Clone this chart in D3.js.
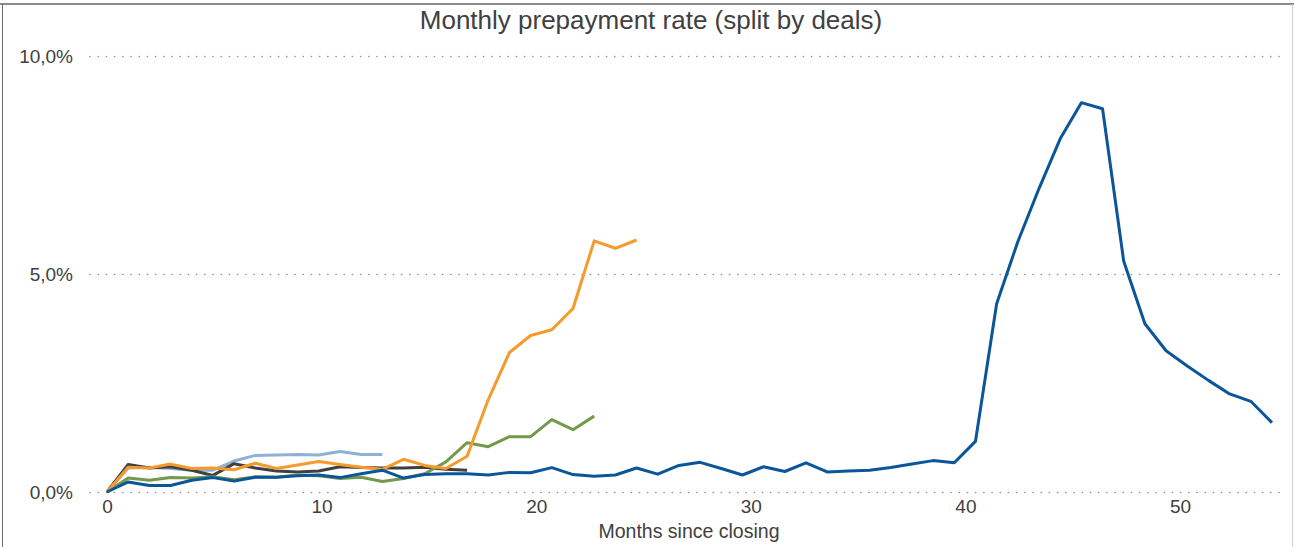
<!DOCTYPE html>
<html>
<head>
<meta charset="utf-8">
<script src="https://cdn.jsdelivr.net/npm/d3@7"></script>
<style>
  body { margin: 0; background: #fff; }
  svg { display: block; font-family: "Liberation Sans", Arial, sans-serif; }
</style>
</head>
<body>
<svg id="chart"></svg>
<script>
// monthly prepayment rate, in %, index = months since closing
var dealBlue = [0, 0.23, 0.15, 0.15, 0.27, 0.33, 0.25, 0.34, 0.34, 0.37,
  0.39, 0.33, 0.42, 0.5, 0.32, 0.4, 0.42, 0.42, 0.39, 0.45,
  0.44, 0.56, 0.4, 0.36, 0.39, 0.55, 0.41, 0.61, 0.68, 0.54,
  0.39, 0.58, 0.47, 0.67, 0.46, 0.48, 0.5, 0.56, 0.64, 0.72,
  0.67, 1.16, 4.32, 5.74, 6.96, 8.1, 8.93, 8.79, 5.29, 3.86,
  3.24, 2.89, 2.56, 2.25, 2.08, 1.59];
var dealOrange = [0, 0.57, 0.55, 0.64, 0.54, 0.55, 0.51, 0.66, 0.54, 0.62,
  0.7, 0.63, 0.57, 0.52, 0.75, 0.61, 0.54, 0.82, 2.12, 3.2,
  3.59, 3.72, 4.21, 5.76, 5.59, 5.78];
var dealGreen = [0, 0.32, 0.27, 0.33, 0.32, 0.35, 0.28, 0.35, 0.34, 0.39,
  0.37, 0.31, 0.34, 0.24, 0.31, 0.42, 0.69, 1.13, 1.04, 1.27,
  1.27, 1.66, 1.43, 1.74];
var dealLightBlue = [0, 0.55, 0.57, 0.54, 0.5, 0.5, 0.71, 0.84, 0.85, 0.86,
  0.85, 0.93, 0.86, 0.86];
var dealGray = [0, 0.63, 0.55, 0.58, 0.5, 0.38, 0.65, 0.55, 0.48, 0.46,
  0.48, 0.58, 0.56, 0.55, 0.55, 0.57, 0.52, 0.5];

var yTicks = [0, 5, 10];
var xTicks = [0, 10, 20, 30, 40, 50];

var width = 1294, height = 547;

var svg = d3.select('#chart')
  .attr('width', width)
  .attr('height', height);

// frame around the chart
svg.append('line').attr('x1', 0).attr('x2', width).attr('y1', 4).attr('y2', 4)
  .attr('stroke', '#8a8a8a').attr('stroke-width', 2);
svg.append('line').attr('x1', 2.5).attr('x2', 2.5).attr('y1', 4).attr('y2', height)
  .attr('stroke', '#6f6f6f').attr('stroke-width', 1);
svg.append('line').attr('x1', 1292.5).attr('x2', 1292.5).attr('y1', 4).attr('y2', height)
  .attr('stroke', '#d0d0d0').attr('stroke-width', 1);

var x = d3.scaleLinear().domain([0, 55]).range([107, 1272]);
var y = d3.scaleLinear().domain([0, 10]).range([492, 56]);
// the category labels sit a little wider apart than the points
var xLabel = d3.scaleLinear().domain([0, 50]).range([107, 1180]);

var locale = d3.formatLocale({decimal: ',', thousands: '.', grouping: [3], currency: ['', '€']});
var fmt = function(d) { return locale.format('.1f')(d) + '%'; };

// dotted gridlines + y labels
var yAxis = d3.axisLeft(y).tickValues(yTicks).tickSize(-(1282 - 90)).tickFormat(fmt).tickPadding(17);
svg.append('g')
  .attr('transform', 'translate(90,0)')
  .call(yAxis)
  .call(function(g) {
    g.select('.domain').remove();
    g.selectAll('.tick line')
      .attr('stroke', '#8f8f8f')
      .attr('stroke-width', 1.6)
      .attr('stroke-linecap', 'round')
      .attr('stroke-dasharray', '0.1,8.1');
    g.selectAll('.tick text')
      .attr('fill', '#404040')
      .style('font-size', '19px');
  });

var xAxis = d3.axisBottom(xLabel).tickValues(xTicks).tickSize(0).tickPadding(8);
svg.append('g')
  .attr('transform', 'translate(0,492)')
  .call(xAxis)
  .call(function(g) {
    g.select('.domain').remove();
    g.selectAll('.tick text')
      .attr('fill', '#404040')
      .style('font-size', '19px');
  });

svg.append('text')
  .attr('x', 689).attr('y', 538)
  .attr('text-anchor', 'middle')
  .attr('fill', '#404040')
  .style('font-size', '19.5px')
  .text('Months since closing');

svg.append('text')
  .attr('x', 651).attr('y', 29)
  .attr('text-anchor', 'middle')
  .attr('fill', '#404040')
  .style('font-size', '26px')
  .text('Monthly prepayment rate (split by deals)');

var line = d3.line()
  .x(function(d, i) { return x(i); })
  .y(function(d) { return y(d); });

var series = [
  {values: dealLightBlue, color: '#8fb1d8'},
  {values: dealGray, color: '#404040'},
  {values: dealGreen, color: '#74984c'},
  {values: dealOrange, color: '#f59a2c'},
  {values: dealBlue, color: '#0b5699'}
];

svg.append('g').selectAll('path')
  .data(series)
  .join('path')
  .attr('fill', 'none')
  .attr('stroke', function(d) { return d.color; })
  .attr('stroke-width', 3)
  .attr('stroke-linejoin', 'round')
  .attr('d', function(d) { return line(d.values); });
</script>
</body>
</html>
